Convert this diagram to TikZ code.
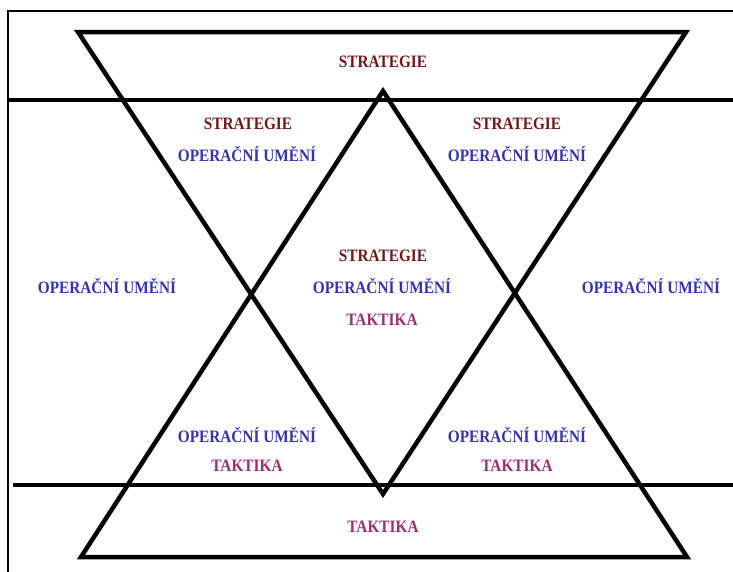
\documentclass[tikz,border=0pt]{standalone}
\usepackage{fontspec}
\setmainfont{Liberation Serif}[FakeStretch=0.88]
\definecolor{strat}{HTML}{701818}
\definecolor{oper}{HTML}{3535A8}
\definecolor{takt}{HTML}{993070}
\tikzset{
  lbl/.style={font=\bfseries\fontsize{17.4}{20}\selectfont, inner sep=0pt, text height=11.5pt, text depth=0pt, anchor=center},
  st/.style={lbl, text=strat},
  op/.style={lbl, text=oper},
  tk/.style={lbl, text=takt},
  tri/.style={line width=4.5pt, line join=miter},
  hline/.style={line width=4pt},
  frame/.style={line width=1.3pt}
}
\begin{document}
\begin{tikzpicture}[x=1pt,y=-1pt]
\useasboundingbox (0,0) rectangle (733,571);
\fill[white] (0,0) rectangle (733,571);
\draw[frame] (8,11) rectangle (745,590);
% vertices
\coordinate (iTL) at (78,32);
\coordinate (iTR) at (686,32);
\coordinate (iB) at (383,494);
\coordinate (uT) at (383,91);
\coordinate (uBL) at (81,557);
\coordinate (uBR) at (687,557);
\coordinate (h1L) at (8,100);
\coordinate (h1R) at (740,100);
\coordinate (h2L) at (13,485);
\coordinate (h2R) at (740,485);
\draw[hline] (h1L) -- (h1R);
\draw[hline] (h2L) -- (h2R);
\draw[tri] (iTL) -- (iTR) -- (iB) -- cycle;
\draw[tri] (uT) -- (uBR) -- (uBL) -- cycle;
% labels
\node[st] (s0) at (383,62) {STRATEGIE};
\node[st] (s1) at (248,124) {STRATEGIE};
\node[op] (o1) at (247,156) {OPERAČNÍ UMĚNÍ};
\node[st] (s2) at (517,124) {STRATEGIE};
\node[op] (o2) at (517,156) {OPERAČNÍ UMĚNÍ};
\node[st] (s3) at (383,256) {STRATEGIE};
\node[op] (o3) at (382,288) {OPERAČNÍ UMĚNÍ};
\node[tk] (t3) at (382,320) {TAKTIKA};
\node[op] (o4) at (107,288) {OPERAČNÍ UMĚNÍ};
\node[op] (o5) at (651,288) {OPERAČNÍ UMĚNÍ};
\node[op] (o6) at (247,437) {OPERAČNÍ UMĚNÍ};
\node[tk] (t6) at (247,466) {TAKTIKA};
\node[op] (o7) at (517,437) {OPERAČNÍ UMĚNÍ};
\node[tk] (t7) at (517,466) {TAKTIKA};
\node[tk] (t0) at (383,527) {TAKTIKA};
\end{tikzpicture}
\end{document}
